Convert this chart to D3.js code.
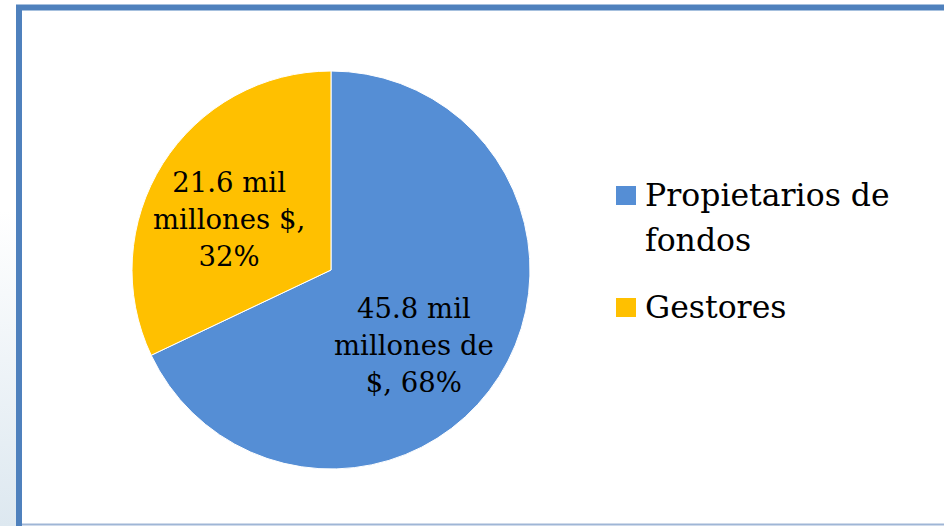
<!DOCTYPE html>
<html>
<head>
<meta charset="utf-8">
<script src="https://cdn.jsdelivr.net/npm/d3@7"></script>
<style>
  body { margin: 0; background: #fff; }
  svg { display: block; }
</style>
</head>
<body>
<div id="vis"></div>
<script>
// Data
const categories = ["Propietarios de fondos", "Gestores"];
const values = [45.8, 21.6];
const percents = ["68%", "32%"];
const labelLines = [
    ["45.8 mil", "millones de", "$, 68%"],
    ["21.6 mil", "millones $,", "32%"]
];
const legendLines = [["Propietarios de", "fondos"], ["Gestores"]];

const width = 944;
const height = 526;
const cx = 331, cy = 270, radius = 199;
const color = d3.scaleOrdinal().domain(categories).range(["#558ed5", "#ffc000"]);
const font = "'DejaVu Serif', serif";

const svg = d3.select("#vis").append("svg")
    .attr("width", width)
    .attr("height", height);

// left background strip gradient
const defs = svg.append("defs");
const grad = defs.append("linearGradient")
    .attr("id", "bg")
    .attr("x1", 0).attr("y1", 0).attr("x2", 0).attr("y2", 1);
grad.append("stop").attr("offset", "0.4").attr("stop-color", "#ffffff");
grad.append("stop").attr("offset", "1").attr("stop-color", "#dde8f0");

svg.append("rect")
    .attr("x", 0).attr("y", 0)
    .attr("width", 16).attr("height", height)
    .attr("fill", "url(#bg)");

// frame: left + top thick, thin light bottom
svg.append("path")
    .attr("d", "M19,526 V7.5 H" + (width + 5))
    .attr("fill", "none")
    .attr("stroke", "#4f81bd")
    .attr("stroke-width", 6);
svg.append("line")
    .attr("x1", 22).attr("x2", width)
    .attr("y1", 524.5).attr("y2", 524.5)
    .attr("stroke", "#9fb6d6")
    .attr("stroke-width", 2);

// pie
const pie = d3.pie().sort(null).value(d => d);
const arcs = pie(values);
const arc = d3.arc().innerRadius(0).outerRadius(radius);

const g = svg.append("g")
    .attr("transform", "translate(" + cx + "," + cy + ")");

g.selectAll("path")
    .data(arcs)
    .enter().append("path")
    .attr("d", arc)
    .attr("fill", (d, i) => color(categories[i]))
    .attr("stroke", "#fff")
    .attr("stroke-width", 1);

// data labels
const labelArc = d3.arc().innerRadius(radius * 0.6).outerRadius(radius * 0.6);
const labelOffset = [[-18, 10], [-1, 12]];
g.selectAll("text.lbl")
    .data(arcs)
    .enter().append("text")
    .attr("class", "lbl")
    .attr("text-anchor", "middle")
    .attr("font-family", font)
    .attr("font-size", 27.5)
    .attr("fill", "#000")
    .each(function (d, i) {
        const c = labelArc.centroid(d);
        const x = c[0] + labelOffset[i][0];
        const y = c[1] + labelOffset[i][1];
        const lines = labelLines[i];
        d3.select(this).selectAll("tspan")
            .data(lines)
            .enter().append("tspan")
            .attr("x", x)
            .attr("y", (l, j) => y + (j - 1) * 37 + 11)
            .text(l => l);
    });

// legend
const legend = svg.append("g").attr("transform", "translate(616,0)");
const legendY = [186, 298];
categories.forEach((c, i) => {
    legend.append("rect")
        .attr("x", 0).attr("y", legendY[i])
        .attr("width", 20).attr("height", 19)
        .attr("fill", color(c));
    const t = legend.append("text")
        .attr("font-family", font)
        .attr("font-size", 31.5)
        .attr("fill", "#000");
    legendLines[i].forEach((l, j) => {
        t.append("tspan")
            .attr("x", 29)
            .attr("y", legendY[i] + 20 + j * 45)
            .text(l);
    });
});
</script>
</body>
</html>
